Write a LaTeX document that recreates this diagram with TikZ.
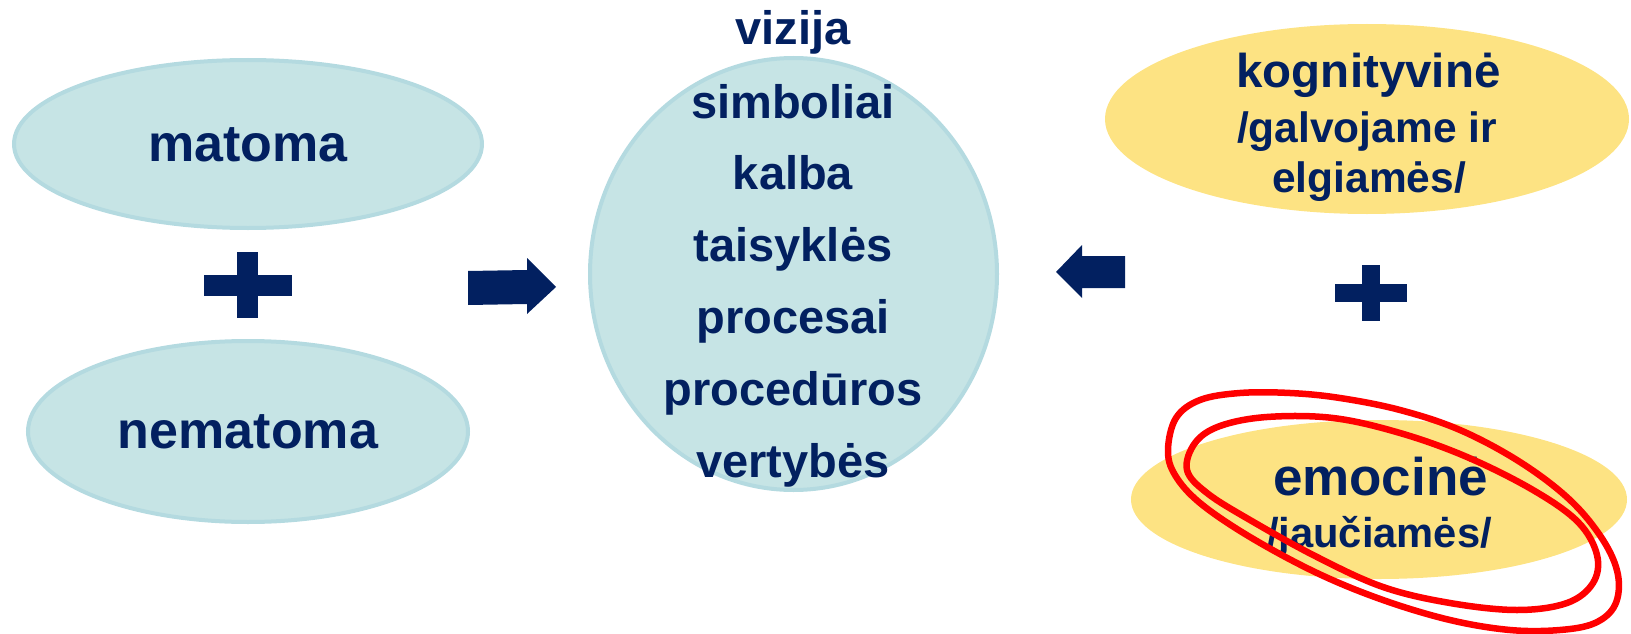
\documentclass[tikz,border=0pt]{standalone}
\usepackage{fontspec}
\setmainfont{Liberation Sans}
\usetikzlibrary{shapes.geometric}
\definecolor{navy}{RGB}{2,32,96}
\definecolor{tealfill}{RGB}{198,228,229}
\definecolor{tealline}{RGB}{180,218,224}
\definecolor{yel}{RGB}{253,227,131}
\definecolor{redline}{RGB}{255,0,0}
\tikzset{
  teal ell/.style={ellipse, fill=tealfill, draw=tealline, line width=4pt, inner sep=0pt},
  yel ell/.style={ellipse, fill=yel, inner sep=0pt},
  lbl/.style={anchor=base, inner sep=0pt, text=navy, font=\bfseries\fontsize{#1}{#1}\selectfont},
  blockarrow/.style={fill=navy},
  plussign/.style={fill=navy},
  scribble/.style={draw=redline, line width=6.5pt}
}
\begin{document}
\begin{tikzpicture}[x=1pt,y=-1pt]
\useasboundingbox (0,0) rectangle (1631,634);
% left ellipses
\node[teal ell, minimum width=468pt, minimum height=168pt] (matE) at (248,144) {};
\node[teal ell, minimum width=440pt, minimum height=181pt] (nematE) at (248,431.5) {};
\node[lbl=52] (mat) at (248,161) {matoma};
\node[lbl=52] (nemat) at (248,448) {nematoma};
% left plus
\fill[plussign] (204,275) rectangle (292,296);
\fill[plussign] (237,252) rectangle (258,318);
% right-pointing block arrow
\fill[blockarrow] (468,271) -- (527,270) -- (527,258) -- (556,287) -- (527,314) -- (527,304) -- (468,305) -- cycle;
% central circle
\node[teal ell, minimum width=407pt, minimum height=432pt] (circ) at (793.5,274) {};
\node[lbl=47] (l1) at (793,45) {vizija};
\node[lbl=47] (l2) at (793,118) {simboliai};
\node[lbl=47] (l3) at (793,189) {kalba};
\node[lbl=47] (l4) at (793,261) {taisyklės};
\node[lbl=47] (l5) at (793,333) {procesai};
\node[lbl=47] (l6) at (793,405) {procedūros};
\node[lbl=47] (l7) at (793,477) {vertybės};
% left-pointing block arrow
\fill[blockarrow] (1125,256) -- (1082,256) -- (1082,245) -- (1056,272) -- (1082,298) -- (1082,288) -- (1125,288) -- cycle;
% right ellipses
\node[yel ell, minimum width=524pt, minimum height=190pt] (kogE) at (1367,119) {};
\node[lbl=47.5] (kog) at (1368.5,88) {kognityvinė};
\node[lbl=42.5] (kog2) at (1367,142) {/galvojame ir};
\node[lbl=42.5] (kog3) at (1369,192) {elgiamės/};
% right plus
\fill[plussign] (1335,284) rectangle (1407,302);
\fill[plussign] (1362,265) rectangle (1380,321);
\node[yel ell, minimum width=496pt, minimum height=159pt] (emoE) at (1379,499.5) {};
\node[lbl=53] (emo) at (1380.5,495) {emocinė};
\node[lbl=41.7] (emo2) at (1379.5,547) {/jaučiamės/};
% red scribbles
\draw[scribble] plot[smooth cycle, tension=0.6] coordinates {
 (1168,450) (1176,418) (1200,400) (1240,393) (1290,393) (1340,398) (1400,410)
 (1460,430) (1520,462) (1570,500) (1603,540) (1618,575) (1615,605) (1595,623)
 (1560,630) (1510,630) (1450,620) (1383,600) (1317,573) (1250,537) (1200,503) (1175,475)};
\draw[scribble] plot[smooth cycle, tension=0.6] coordinates {
 (1187,470) (1195,443) (1220,426) (1267,417) (1333,418) (1400,433) (1467,457)
 (1533,490) (1578,522) (1597,555) (1593,583) (1567,603) (1517,610) (1450,603)
 (1383,587) (1317,557) (1250,520) (1207,493)};
\end{tikzpicture}
\end{document}
